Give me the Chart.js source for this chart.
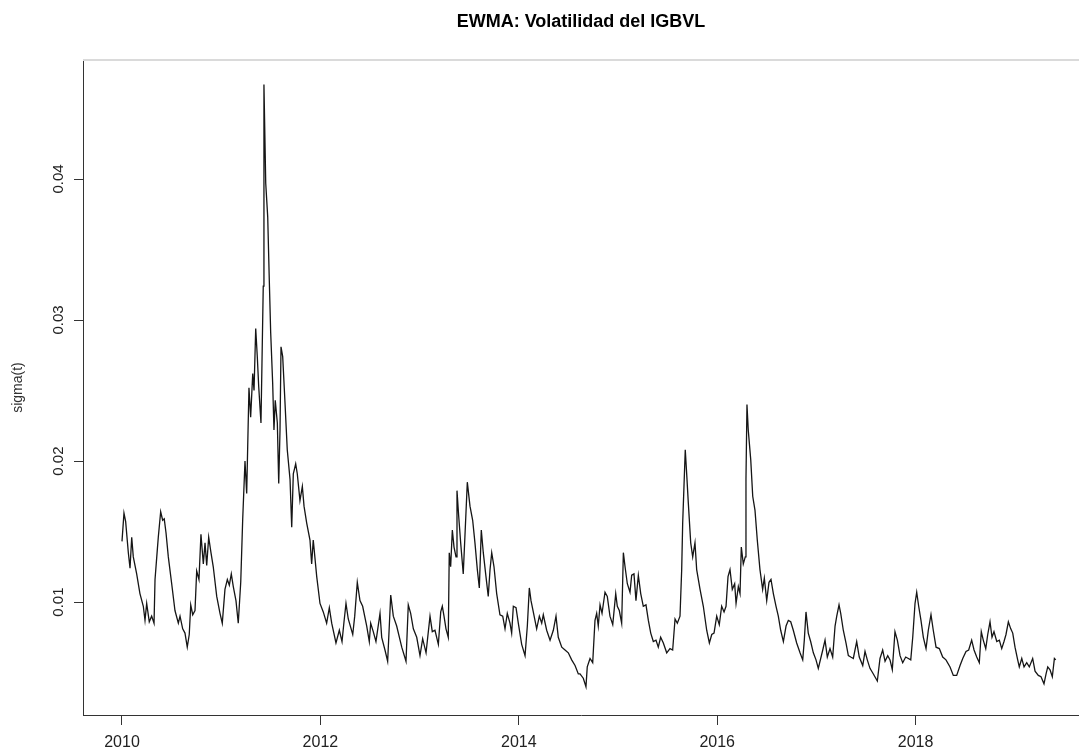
<!DOCTYPE html>
<html>
<head>
<meta charset="utf-8">
<title>EWMA: Volatilidad del IGBVL</title>
<script src="https://cdn.jsdelivr.net/npm/chart.js@4.4.1/dist/chart.umd.min.js"></script>
<style>
  html, body { margin: 0; padding: 0; background: #fff; }
  #wrap { width: 1079px; height: 747px; position: relative; }
</style>
</head>
<body>
<div id="wrap"><canvas id="chartCanvas"></canvas></div>
<script>
// fecha (año decimal) y sigma(t)
const dates = [
  2010.000,2010.020,2010.037,2010.064,2010.081,2010.098,2010.114,2010.148,2010.181,2010.215,2010.232,2010.249,2010.275,2010.299,2010.323,2010.333,2010.356,2010.366,2010.390,2010.410,2010.426,2010.444,2010.467,2010.501,2010.534,2010.568,2010.585,2010.612,2010.635,2010.658,2010.678,2010.693,2010.713,2010.736,2010.753,2010.776,2010.796,2010.820,2010.837,2010.854,2010.874,2010.897,2010.920,2010.955,2010.988,
  2011.011,2011.038,2011.062,2011.082,2011.102,2011.122,2011.149,2011.172,2011.197,2011.217,2011.240,2011.257,2011.280,2011.297,2011.318,2011.331,2011.348,2011.364,2011.378,2011.401,2011.411,2011.424,2011.431,2011.449,2011.469,2011.485,2011.499,2011.519,2011.532,2011.545,2011.566,2011.580,2011.593,2011.603,2011.620,2011.640,2011.666,2011.694,2011.711,2011.727,2011.751,2011.767,2011.794,2011.818,2011.835,2011.862,2011.895,2011.912,2011.928,2011.963,2011.996,
  2012.029,2012.063,2012.090,2012.114,2012.157,2012.191,2012.218,2012.238,2012.258,2012.281,2012.326,2012.346,2012.372,2012.399,2012.426,2012.467,2012.493,2012.507,2012.533,2012.560,2012.601,2012.618,2012.651,2012.678,2012.709,2012.735,2012.769,2012.820,2012.863,2012.886,2012.910,2012.937,2012.971,
  2013.004,2013.031,2013.065,2013.105,2013.128,2013.155,2013.189,2013.213,2013.229,2013.246,2013.266,2013.289,2013.299,2013.313,2013.330,2013.347,2013.367,2013.377,2013.394,2013.414,2013.440,2013.461,2013.481,2013.508,2013.535,2013.558,2013.582,2013.602,2013.622,2013.642,2013.666,2013.692,2013.710,2013.727,2013.750,2013.777,2013.810,2013.838,2013.861,2013.884,2013.911,2013.928,2013.945,2013.972,2013.995,
  2014.029,2014.063,2014.086,2014.106,2014.123,2014.146,2014.180,2014.207,2014.231,2014.247,2014.281,2014.315,2014.348,2014.375,2014.398,2014.433,2014.466,2014.499,2014.533,2014.567,2014.600,2014.617,2014.650,2014.677,2014.690,2014.718,2014.745,2014.768,2014.785,2014.801,2014.819,2014.839,2014.869,2014.892,2014.919,2014.947,2014.977,2014.993,
  2015.013,2015.037,2015.054,2015.071,2015.094,2015.121,2015.138,2015.161,2015.181,2015.205,2015.229,2015.255,2015.282,2015.306,2015.330,2015.356,2015.383,2015.406,2015.430,2015.457,2015.491,2015.524,2015.551,2015.575,2015.598,2015.625,2015.642,2015.652,2015.665,2015.678,2015.693,2015.709,2015.733,2015.753,2015.776,2015.793,2015.827,2015.860,2015.894,2015.921,2015.945,2015.968,2015.995,
  2016.021,2016.045,2016.069,2016.089,2016.109,2016.129,2016.152,2016.176,2016.190,2016.213,2016.230,2016.243,2016.263,2016.283,2016.290,2016.300,2016.313,2016.338,2016.358,2016.381,2016.404,2016.431,2016.458,2016.475,2016.499,2016.522,2016.542,2016.566,2016.593,2016.616,2016.640,2016.667,2016.694,2016.717,2016.741,2016.767,2016.801,2016.835,2016.862,2016.878,2016.895,2016.918,2016.942,2016.969,2016.996,
  2017.019,2017.064,2017.087,2017.110,2017.137,2017.164,2017.188,2017.205,2017.228,2017.245,2017.271,2017.298,2017.322,2017.346,2017.372,2017.406,2017.432,2017.467,2017.490,2017.513,2017.540,2017.574,2017.614,2017.641,2017.668,2017.692,2017.719,2017.742,2017.765,2017.792,2017.816,2017.843,2017.870,2017.900,2017.927,2017.951,2017.971,2017.994,
  2018.011,2018.031,2018.054,2018.078,2018.105,2018.128,2018.155,2018.178,2018.206,2018.239,2018.273,2018.306,2018.347,2018.380,2018.414,2018.448,2018.475,2018.508,2018.535,2018.565,2018.589,2018.616,2018.642,2018.662,2018.682,2018.707,2018.727,2018.750,2018.770,2018.790,2018.818,2018.844,2018.868,2018.891,2018.911,2018.935,2018.959,2018.979,
  2019.002,2019.029,2019.045,2019.070,2019.093,2019.120,2019.146,2019.180,2019.204,2019.237,2019.264,2019.294,2019.315,2019.332,2019.355,2019.378,2019.399,2019.413
];
const sigma = [
  0.0143,0.0163,0.0157,0.0135,0.0124,0.0146,0.0132,0.0120,0.0106,0.0097,0.0087,0.0099,0.0086,0.0090,0.0085,0.0116,0.0137,0.0146,0.0164,0.0158,0.0159,0.0149,0.0132,0.0113,0.0094,0.0085,0.0090,0.0081,0.0078,0.0068,0.0077,0.0098,0.0091,0.0094,0.0122,0.0116,0.0148,0.0127,0.0142,0.0126,0.0146,0.0135,0.0125,0.0104,0.0092,
  0.0085,0.0109,0.0116,0.0112,0.0120,0.0111,0.0101,0.0085,0.0114,0.0159,0.0200,0.0177,0.0252,0.0231,0.0262,0.0250,0.0294,0.0274,0.0253,0.0227,0.0269,0.0324,0.0467,0.0397,0.0373,0.0328,0.0291,0.0255,0.0222,0.0243,0.0227,0.0184,0.0222,0.0281,0.0274,0.0246,0.0208,0.0187,0.0153,0.0191,0.0198,0.0191,0.0172,0.0182,0.0168,0.0156,0.0144,0.0127,0.0144,0.0118,0.0099,
  0.0093,0.0085,0.0096,0.0085,0.0071,0.0080,0.0072,0.0086,0.0099,0.0088,0.0077,0.0090,0.0114,0.0101,0.0097,0.0083,0.0072,0.0085,0.0079,0.0072,0.0092,0.0075,0.0066,0.0058,0.0105,0.0090,0.0083,0.0068,0.0058,0.0098,0.0092,0.0081,0.0075,
  0.0062,0.0074,0.0064,0.0090,0.0079,0.0080,0.0070,0.0093,0.0097,0.0090,0.0081,0.0075,0.0135,0.0125,0.0151,0.0139,0.0132,0.0179,0.0161,0.0142,0.0120,0.0153,0.0185,0.0168,0.0158,0.0142,0.0123,0.0110,0.0151,0.0135,0.0120,0.0104,0.0123,0.0135,0.0125,0.0106,0.0091,0.0090,0.0081,0.0092,0.0085,0.0078,0.0097,0.0096,0.0085,
  0.0070,0.0062,0.0083,0.0110,0.0101,0.0093,0.0081,0.0090,0.0085,0.0091,0.0080,0.0073,0.0080,0.0090,0.0075,0.0068,0.0066,0.0064,0.0059,0.0055,0.0049,0.0049,0.0046,0.0040,0.0054,0.0060,0.0057,0.0087,0.0092,0.0083,0.0098,0.0092,0.0107,0.0104,0.0090,0.0084,0.0106,0.0097,
  0.0094,0.0085,0.0135,0.0125,0.0113,0.0107,0.0119,0.0120,0.0101,0.0119,0.0106,0.0097,0.0098,0.0087,0.0078,0.0072,0.0073,0.0068,0.0075,0.0071,0.0064,0.0067,0.0066,0.0088,0.0085,0.0090,0.0123,0.0156,0.0182,0.0208,0.0190,0.0170,0.0142,0.0132,0.0142,0.0123,0.0109,0.0097,0.0080,0.0071,0.0077,0.0078,0.0090,
  0.0084,0.0097,0.0093,0.0097,0.0118,0.0123,0.0109,0.0113,0.0099,0.0111,0.0106,0.0139,0.0127,0.0132,0.0187,0.0240,0.0222,0.0201,0.0175,0.0165,0.0144,0.0123,0.0109,0.0117,0.0101,0.0114,0.0116,0.0106,0.0097,0.0090,0.0080,0.0072,0.0083,0.0087,0.0086,0.0080,0.0071,0.0064,0.0059,0.0073,0.0093,0.0078,0.0072,0.0064,0.0059,
  0.0053,0.0066,0.0073,0.0061,0.0067,0.0061,0.0083,0.0090,0.0098,0.0092,0.0080,0.0071,0.0062,0.0061,0.0060,0.0072,0.0061,0.0055,0.0065,0.0059,0.0053,0.0049,0.0044,0.0060,0.0066,0.0058,0.0062,0.0059,0.0052,0.0079,0.0073,0.0062,0.0057,0.0061,0.0060,0.0059,0.0075,0.0099,
  0.0107,0.0097,0.0087,0.0075,0.0067,0.0080,0.0091,0.0080,0.0068,0.0067,0.0061,0.0059,0.0054,0.0048,0.0048,0.0055,0.0060,0.0065,0.0066,0.0073,0.0066,0.0061,0.0057,0.0079,0.0073,0.0067,0.0077,0.0086,0.0075,0.0079,0.0072,0.0073,0.0067,0.0072,0.0077,0.0086,0.0081,0.0078,
  0.0068,0.0059,0.0054,0.0060,0.0054,0.0057,0.0054,0.0060,0.0051,0.0048,0.0047,0.0042,0.0049,0.0054,0.0052,0.0047,0.0060,0.0059
];
const yearTicks = [2010, 2012, 2014, 2016, 2018];
const sigmaTicks = [0.01, 0.02, 0.03, 0.04];

Chart.defaults.font.family = '"Liberation Sans", Arial, sans-serif';
Chart.defaults.color = '#222';

// linea gris superior del marco
const topFrame = {
  id: 'topFrame',
  afterDraw(chart){
    const a = chart.chartArea, c = chart.ctx;
    c.save();
    c.strokeStyle = '#dadada';
    c.lineWidth = 2;
    c.beginPath(); c.moveTo(a.left, a.top); c.lineTo(a.right, a.top); c.stroke();
    c.restore();
  }
};

const n = Math.min(dates.length, sigma.length);
const pts = [];
for(let i=0;i<n;i++) pts.push({x: dates[i], y: sigma[i]});

new Chart(document.getElementById('chartCanvas'), {
  type: 'line',
  data: {
    datasets: [{
      label: 'sigma(t)',
      data: pts,
      borderColor: '#151515',
      borderWidth: 1.3,
      pointRadius: 0,
      tension: 0,
      fill: false
    }]
  },
  options: {
    responsive: true,
    maintainAspectRatio: false,
    animation: false,
    layout: { padding: 0 },
    plugins: {
      legend: { display: false },
      tooltip: { enabled: false },
      title: {
        display: true,
        text: 'EWMA: Volatilidad del IGBVL',
        fullSize: false,
        color: '#000',
        font: { size: 18, weight: 'bold' },
        padding: { top: 11, bottom: 27.4 }
      }
    },
    scales: {
      x: {
        type: 'linear',
        min: 2009.607,
        max: 2019.647,
        afterBuildTicks: s => { s.ticks = yearTicks.map(v => ({value: v})); },
        afterFit: s => { s.height = 32; },
        grid: { drawOnChartArea: false, drawTicks: true, tickLength: 10, color: '#333' },
        border: { display: true, color: '#333', width: 1 },
        ticks: { font: { size: 16 }, color: '#222', padding: 8, maxRotation: 0, callback: v => String(v) }
      },
      y: {
        type: 'linear',
        min: 0.00199,
        max: 0.04844,
        afterBuildTicks: s => { s.ticks = sigmaTicks.map(v => ({value: v})); },
        afterFit: s => { s.width = 83; },
        grid: { drawOnChartArea: false, drawTicks: true, tickLength: 9, color: '#333' },
        border: { display: true, color: '#333', width: 1 },
        ticks: { font: { size: 15 }, color: '#222', padding: 1, minRotation: 90, maxRotation: 90, crossAlign: 'center', callback: v => String(v) },
        title: { display: true, text: 'sigma(t)', color: '#333', font: { size: 14 }, padding: { top: 10, bottom: 0 } }
      }
    }
  },
  plugins: [topFrame]
});
</script>
</body>
</html>
